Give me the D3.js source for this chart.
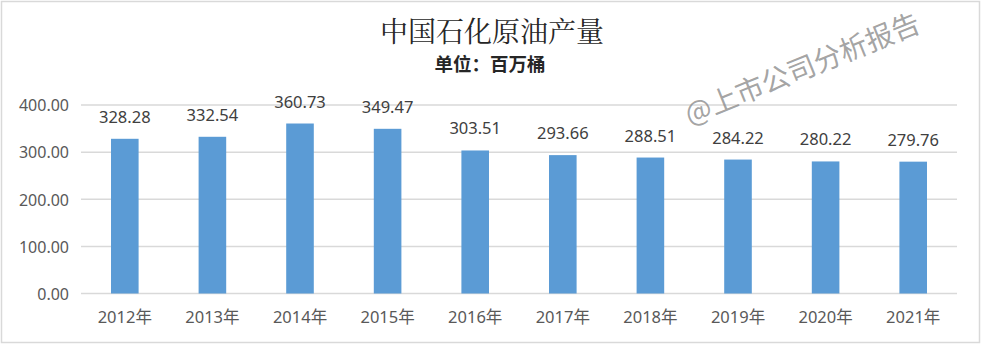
<!DOCTYPE html>
<html><head><meta charset="utf-8">
<script src="https://cdn.jsdelivr.net/npm/d3@7"></script>
<style>body{margin:0;background:#fff}svg{display:block}</style>
</head><body>
<script>
const categories = ["2012年","2013年","2014年","2015年","2016年","2017年","2018年","2019年","2020年","2021年"];
const values = [328.28,332.54,360.73,349.47,303.51,293.66,288.51,284.22,280.22,279.76];
const yTicks = [0,100,200,300,400];
const title = "中国石化原油产量";
const subtitle = "单位：百万桶";
const watermark = "@上市公司分析报告";

const W = 982, H = 346;
const svg = d3.select("body").append("svg").attr("width", W).attr("height", H);
svg.append("rect").attr("x",1.5).attr("y",1.5).attr("width",978).attr("height",341)
  .attr("fill","#fff").attr("stroke","#d9d9d9").attr("stroke-width",1.5);

const x = d3.scaleBand().domain(categories).range([81, 957]).padding(0);
const y = d3.scaleLinear().domain([0,400]).range([293.5,105]);
const barW = x.bandwidth()*0.315;
const sans = "'Noto Sans','Noto Sans CJK SC',sans-serif";

// grid
svg.append("g").selectAll("line").data(yTicks).join("line")
  .attr("x1",81).attr("x2",957).attr("y1",d=>y(d)).attr("y2",d=>y(d))
  .attr("stroke","#d9d9d9").attr("stroke-width",1.5);

// y axis labels
const yAxis = d3.axisLeft(y).tickValues(yTicks).tickFormat(d3.format(".2f")).tickSize(0).tickPadding(0);
const gy = svg.append("g").attr("transform","translate(69,0)").call(yAxis);
gy.select(".domain").remove();
gy.selectAll("text").attr("font-family",sans).attr("font-size","16px").attr("fill","#595959").attr("dy","0.36em");

// bars
svg.append("g").selectAll("rect").data(values).join("rect")
  .attr("x",(d,i)=>x(categories[i])+x.bandwidth()/2-barW/2)
  .attr("y",d=>y(d)).attr("width",barW).attr("height",d=>y(0)-y(d))
  .attr("fill","#5b9bd5");

// value labels
svg.append("g").selectAll("text").data(values).join("text")
  .attr("x",(d,i)=>x(categories[i])+x.bandwidth()/2)
  .attr("y",d=>y(d)-16)
  .attr("text-anchor","middle").attr("font-family",sans).attr("font-size","16.5px").attr("fill","#404040")
  .text(d=>d3.format(".2f")(d));

// x axis labels
const xAxis = d3.axisBottom(x).tickSize(0).tickPadding(0);
const gx = svg.append("g").attr("transform","translate(0,323)").call(xAxis);
gx.select(".domain").remove();
gx.selectAll("text").attr("font-family",sans).attr("font-size","16.5px").attr("fill","#595959").attr("dy","0");

// title
svg.append("text").attr("x",492).attr("y",42).attr("text-anchor","middle")
  .attr("font-family","'Noto Serif CJK SC','Noto Sans CJK SC',serif").attr("font-size","28px").attr("fill","#262626")
  .text(title);
svg.append("text").attr("x",490).attr("y",71).attr("text-anchor","middle")
  .attr("font-family","'Noto Sans CJK SC',sans-serif").attr("font-weight","bold").attr("font-size","18.5px").attr("fill","#262626")
  .text(subtitle);

// watermark
svg.append("text").attr("transform","translate(806,78) rotate(-22)").attr("text-anchor","middle")
  .attr("font-family","'Noto Sans CJK SC',sans-serif").attr("font-size","28px").attr("fill","#8c8c8c").attr("fill-opacity",0.8)
  .text(watermark);
</script>
</body></html>
